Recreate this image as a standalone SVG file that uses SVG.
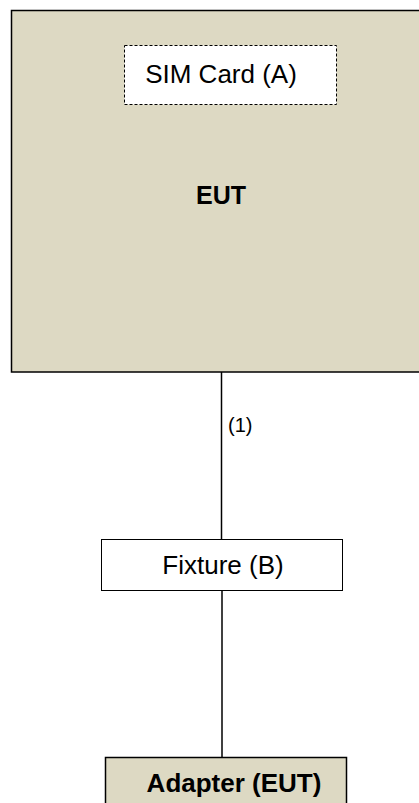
<svg xmlns="http://www.w3.org/2000/svg" width="419" height="803" viewBox="0 0 419 803">
  <style>
    .txt { font-family: "Liberation Sans", Arial, sans-serif; fill: #000; }
    .tan { fill: #DDD9C3; stroke: #000; stroke-width: 1.5; }
    .plain { fill: #fff; stroke: #000; stroke-width: 1; }
    .dash { fill: #fff; stroke: #000; stroke-width: 1; stroke-dasharray: 3 2; }
    .wire { stroke: #000; stroke-width: 1.5; fill: none; }
  </style>
  <rect width="419" height="803" fill="#fff"/>

  <g id="connectors">
    <line class="wire" x1="221.5" y1="372" x2="221.5" y2="539"/>
    <line class="wire" x1="222" y1="591" x2="222" y2="757"/>
    <text class="txt" x="228" y="432" font-size="20">(1)</text>
  </g>

  <g id="eut">
    <rect class="tan" x="11.5" y="10.5" width="420" height="361.5"/>
    <text class="txt" x="221" y="204" font-size="25" font-weight="bold" text-anchor="middle">EUT</text>
  </g>

  <g id="sim-card">
    <rect class="dash" x="124.5" y="45.5" width="212" height="59"/>
    <text class="txt" x="221" y="83" font-size="26" text-anchor="middle">SIM Card (A)</text>
  </g>

  <g id="fixture">
    <rect class="plain" x="101.5" y="539.5" width="241" height="51"/>
    <text class="txt" x="223" y="574" font-size="26" text-anchor="middle">Fixture (B)</text>
  </g>

  <g id="adapter">
    <rect class="tan" x="105.5" y="757.5" width="241" height="60"/>
    <text class="txt" x="234" y="792" font-size="26" font-weight="bold" text-anchor="middle">Adapter (EUT)</text>
  </g>
</svg>
